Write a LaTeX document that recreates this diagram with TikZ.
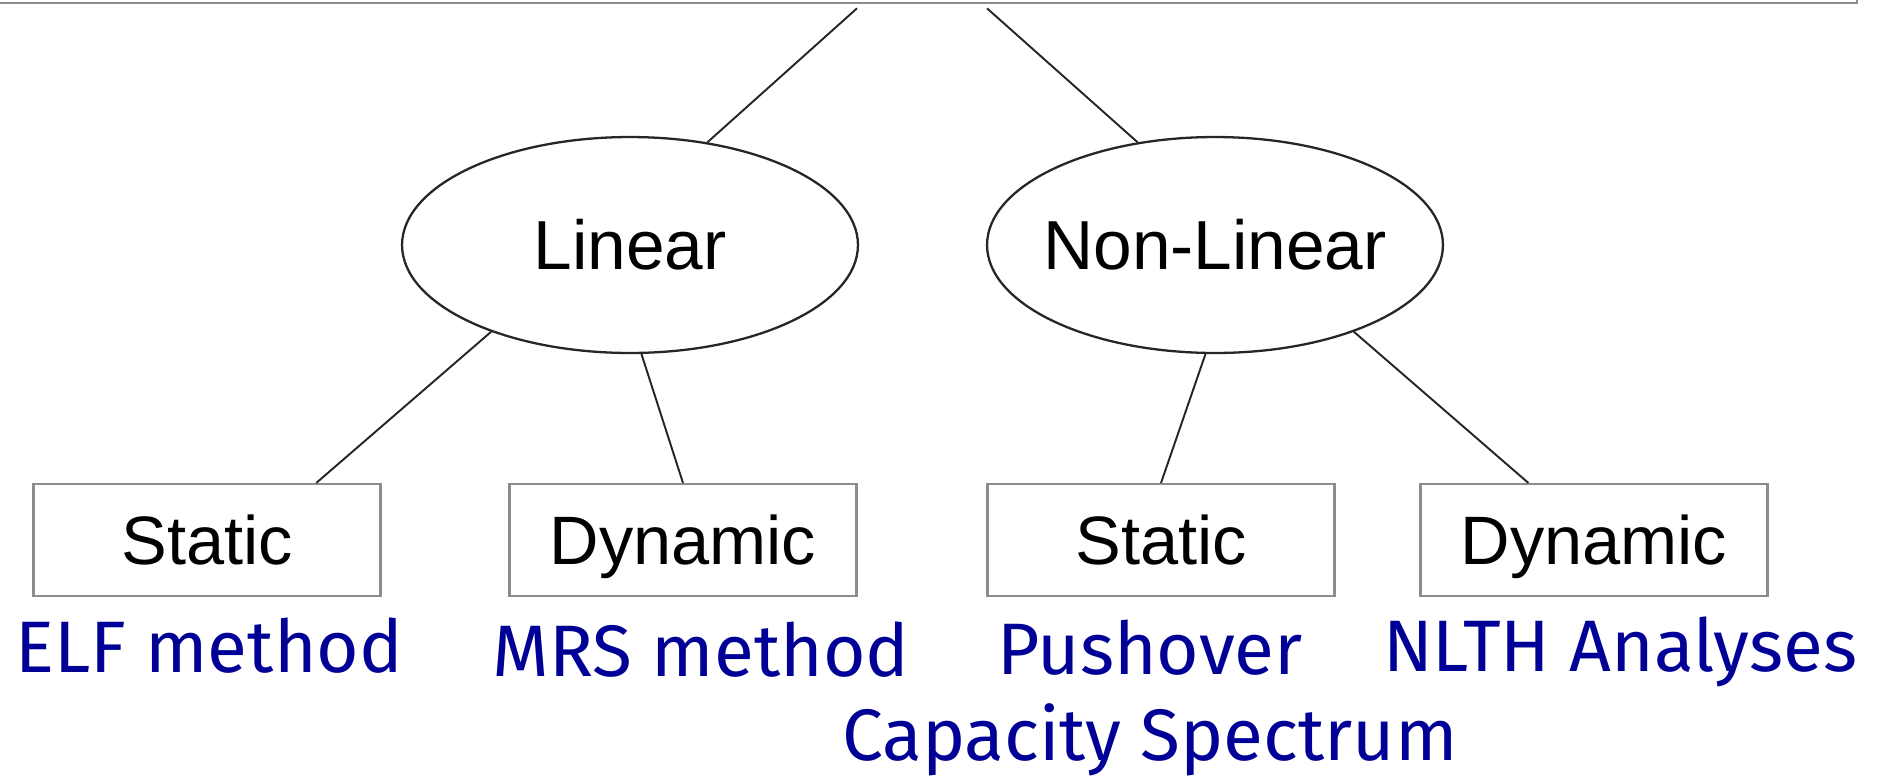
\documentclass[tikz,border=0pt]{standalone}
\usepackage{fontspec}
\setmainfont{Liberation Sans}
\newfontfamily\handfont{Fira Sans}
\usetikzlibrary{shapes.geometric,calc}
\definecolor{handblue}{RGB}{0,0,150}
\definecolor{boxgray}{RGB}{140,140,140}
\tikzset{
  rootbox/.style={draw=boxgray, line width=1.5pt, rectangle, inner sep=0pt},
  ovalnode/.style={draw=black!85, line width=1.3pt, ellipse, inner sep=0pt,
    minimum width=9.12cm, minimum height=4.32cm,
    font=\fontsize{39.5pt}{45pt}\selectfont, text height=28.3pt, text depth=0pt},
  kindbox/.style={draw=boxgray, line width=1.2pt, rectangle, inner sep=0pt,
    minimum width=6.94cm, minimum height=2.24cm,
    font=\fontsize{39pt}{45pt}\selectfont, text height=27.9pt, text depth=0pt},
  methodtext/.style={anchor=base, inner sep=0pt, text=handblue,
    font=\handfont\fontsize{41.5pt}{48pt}\selectfont},
  link/.style={draw=black!85, line width=1.1pt}
}
\begin{document}
\begin{tikzpicture}[x=0.02cm, y=-0.02cm]
\useasboundingbox[fill=white] (0,0) rectangle (1896,782);
% cut-off top box
\node[rootbox, minimum width=37.74cm, minimum height=1.26cm] (root) at (913.5,-28.5) {};
\coordinate (t1) at ($(root.south)+(-56.5,4)$);
\coordinate (t2) at ($(root.south)+(73.5,4)$);
% ellipses
\node[ovalnode] (lin) at (630,245) {\makebox[0pt]{Linear}};
\node[ovalnode] (nl) at (1215,245) {\makebox[0pt]{Non-Linear}};
% boxes
\node[kindbox] (s1) at (207,540) {Static};
\node[kindbox] (d1) at (683,540) {Dynamic};
\node[kindbox] (s2) at (1161,540) {Static};
\node[kindbox] (d2) at (1594,540) {Dynamic};
% connectors
\draw[link] (t1) -- (lin.53);
\draw[link] (t2) -- (nl.127);
\draw[link] (lin.212) -- ($(s1.north west)!0.813!(s1.north east)$);
\draw[link] (lin.276) -- (d1.north);
\draw[link] (nl.265) -- (s2.north);
\draw[link] (nl.328) -- ($(d2.north west)!0.312!(d2.north east)$);
% method labels
\node[methodtext] (m1) at (209,672) {ELF method};
\node[methodtext] (m2) at (701,676) {MRS method};
\node[methodtext] (m3) at (1150,674) {Pushover};
\node[methodtext] (m4) at (1620,671) {NLTH Analyses};
\node[methodtext] (m5) at (1150,760) {Capacity Spectrum};
\end{tikzpicture}
\end{document}
